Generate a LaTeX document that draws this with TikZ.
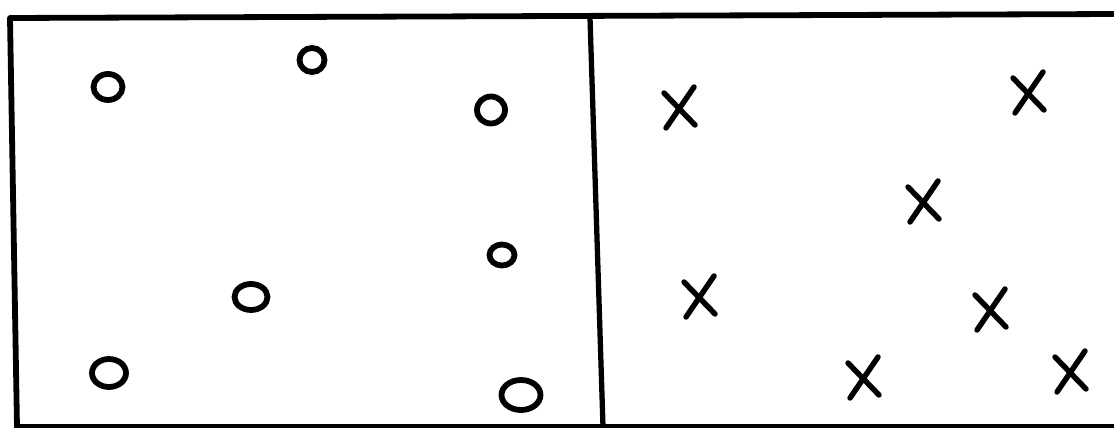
\documentclass[tikz,border=0pt]{standalone}
\usepackage{tikz}
\tikzset{
  rahmen/.style={black,line width=3.3pt,line cap=round,line join=round},
  wand/.style={black,line width=3pt},
  kreis/.style={black,line width=3.3pt},
  kreuz/.style={black,line width=3.1pt,line cap=round},
}
\newcommand{\xmark}[2]{%
  \draw[kreuz] (#1,#2) ++(-15,-15) -- ++(31,32);
  \draw[kreuz] (#1,#2) ++(15,-21) -- ++(-28,41);}

\begin{document}
\begin{tikzpicture}[x=0.02cm,y=-0.02cm]
  \useasboundingbox (0,0) rectangle (1114,428);
  % Gefaess mit Trennwand
  \draw[rahmen] (1120,14) -- (10,18) -- (17,427) -- (1120,427);
  \draw[wand] (590,18) -- (603,427);
  % linke Haelfte: Kreise
  \draw[kreis] (108,87) ellipse (14.5 and 13);
  \draw[kreis] (312,60) ellipse (12.5 and 12);
  \draw[kreis] (491,110) ellipse (14 and 13.5);
  \draw[kreis] (502,255) ellipse (12.5 and 10.5);
  \draw[kreis] (251,297) ellipse (16.5 and 13);
  \draw[kreis] (109,373) ellipse (17 and 14);
  \draw[kreis] (521,395) ellipse (19.5 and 15);
  % rechte Haelfte: Kreuze
  \xmark{679}{108}
  \xmark{1028}{93}
  \xmark{923}{202}
  \xmark{699}{297}
  \xmark{990}{310}
  \xmark{863}{378}
  \xmark{1070}{372}
\end{tikzpicture}
\end{document}
